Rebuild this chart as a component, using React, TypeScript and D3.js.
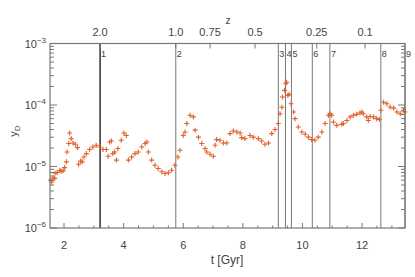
import React from 'react';
import * as d3 from 'd3';

const times = [
  1.55, 1.59, 1.63, 1.69, 1.70, 1.77, 1.86, 1.90, 1.97, 2.02, 2.08, 2.10, 2.16, 2.19, 2.24, 2.30, 2.38, 2.45,
  2.49, 2.56, 2.61, 2.67, 2.75, 2.86, 2.97, 3.08, 3.20, 3.31, 3.42, 3.48, 3.53, 3.59, 3.64, 3.70, 3.76, 3.81,
  3.92, 4.01, 4.09,
  4.16, 4.27, 4.38, 4.49, 4.61, 4.72, 4.78, 4.83, 4.94, 5.05, 5.16, 5.28, 5.39, 5.50, 5.61, 5.72, 5.82, 5.89,
  6.00, 6.06, 6.12, 6.23, 6.34, 6.40, 6.51, 6.62, 6.73,
  6.79, 6.90, 7.01, 7.07, 7.12, 7.23, 7.35, 7.46, 7.57, 7.68, 7.80, 7.91, 7.96, 8.07, 8.24, 8.35, 8.52, 8.63,
  8.74, 8.86, 8.97, 9.08, 9.19,
  9.25, 9.31, 9.33, 9.40, 9.44, 9.47, 9.51, 9.55, 9.62, 9.70, 9.75, 9.86, 9.98, 10.09, 10.20, 10.31, 10.42,
  10.53, 10.65, 10.76, 10.87, 10.93, 10.98, 11.04, 11.15, 11.32,
  11.37, 11.49, 11.60, 11.71, 11.82, 11.93, 11.99, 12.04, 12.16, 12.21, 12.27, 12.38, 12.49, 12.58, 12.63,
  12.72, 12.83, 12.94, 13.06, 13.17, 13.28, 13.39, 13.44,
];

const yValues = [
  6.0e-6, 5.6e-6, 6.5e-6, 6.4e-6, 7.8e-6, 8.0e-6, 8.7e-6, 8.4e-6, 8.5e-6, 9.6e-6, 1.19e-5, 1.72e-5, 2.36e-5, 3.5e-5, 2.84e-5, 2.41e-5, 2.3e-5, 2.03e-5,
  1.09e-5, 1.23e-5, 1.19e-5, 1.43e-5, 1.62e-5, 1.89e-5, 2.08e-5, 2.21e-5, 2.08e-5, 1.89e-5, 1.89e-5, 1.47e-5, 2.5e-5, 2.6e-5, 1.62e-5, 1.72e-5, 1.27e-5, 1.96e-5,
  2.67e-5, 3.5e-5, 3.2e-5,
  1.27e-5, 1.43e-5, 1.62e-5, 1.72e-5, 2.08e-5, 2.36e-5, 2.5e-5, 1.72e-5, 1.27e-5, 1.05e-5, 9.3e-6, 8.2e-6, 7.7e-6, 7.9e-6, 8.7e-6, 1.05e-5, 1.43e-5, 1.84e-5,
  3.2e-5, 3.64e-5, 5.0e-5, 6.8e-5, 6.4e-5, 3.9e-5, 3.0e-5, 2.36e-5, 1.96e-5,
  1.72e-5, 1.58e-5, 1.47e-5, 2.21e-5, 2.74e-5, 2.67e-5, 2.41e-5, 2.41e-5, 3.43e-5, 3.77e-5, 3.64e-5, 3.5e-5, 2.95e-5, 2.84e-5, 3.2e-5, 3.0e-5, 2.84e-5, 2.6e-5,
  2.3e-5, 2.41e-5, 3.43e-5, 4.0e-5, 5.0e-5,
  7.2e-5, 9.2e-5, 1.35e-4, 1.73e-4, 2.22e-4, 2.35e-4, 1.43e-4, 1.49e-4, 1.05e-4, 7.7e-5, 6.0e-5, 4.4e-5, 3.64e-5, 3.34e-5, 3.0e-5, 2.74e-5, 2.67e-5,
  3.0e-5, 3.64e-5, 5.0e-5, 6.8e-5, 7.2e-5, 6.8e-5, 5.3e-5, 4.67e-5, 4.85e-5,
  5.0e-5, 5.6e-5, 6.4e-5, 6.8e-5, 7.05e-5, 7.4e-5, 7.7e-5, 7.2e-5, 6.4e-5, 5.6e-5, 6.5e-5, 6.4e-5, 6.0e-5, 5.8e-5, 8.2e-5,
  1.11e-4, 1.05e-4, 9.3e-5, 8.9e-5, 7.7e-5, 7.2e-5, 8.2e-5, 7.7e-5,
];

const eventTimes = [3.21, 5.75, 9.19, 9.43, 9.63, 10.33, 10.92, 12.63, 13.44];
const eventLabels = ['1', '2', '3', '4', '5', '6', '7', '8', '9'];

const zTickLabels = ['2.0', '1.0', '0.75', '0.5', '0.25', '0.1'];
const zTickTimes = [3.21, 5.75, 6.9, 8.41, 10.48, 12.1];

const xTicks = [2, 4, 6, 8, 10, 12];
const yDecades = [-6, -5, -4, -3];

const W = 415;
const H = 277;
const L = 50, R = 405, T = 43.5, B = 228;
const FONT = "'Liberation Sans', Arial, sans-serif";
const TXT = '#444';
const AX = '#777';
const DOT = '#e0602a';

export default function App() {
  const x = d3.scaleLinear().domain([1.53, 13.44]).range([L, R]);
  const y = d3.scaleLog().domain([1e-6, 1e-3]).range([B, T]);

  const minorX = d3.range(1.5, 13.5, 0.5).filter((t) => t >= 1.53 && t <= 13.44 && !xTicks.includes(t));
  const minorY: number[] = [];
  for (let e = -6; e < -3; e++) for (let m = 2; m <= 9; m++) minorY.push(m * Math.pow(10, e));

  return (
    <div style={{ position: 'absolute', left: 0, top: 0 }}>
      <svg width={W} height={H} style={{ display: 'block', background: '#fff' }} fontFamily={FONT}>
        {/* event lines */}
        {eventTimes.map((t, i) => (
          <g key={'ev' + i}>
            <line x1={x(t)} x2={x(t)} y1={T} y2={B} stroke={i === 0 ? '#111' : '#777'} strokeWidth={i === 0 ? 1.3 : 1} />
            <text x={x(t) + 1} y={57} fontSize={9} fill={TXT}>{eventLabels[i]}</text>
          </g>
        ))}
        {/* data markers */}
        {times.map((t, i) => {
          const cx = x(t), cy = y(yValues[i]);
          return (
            <path key={'p' + i} d={`M${cx - 2.5},${cy}H${cx + 2.5}M${cx},${cy - 2.5}V${cy + 2.5}`} stroke={DOT} strokeWidth={1.1} fill="none" />
          );
        })}
        {/* frame */}
        <rect x={L} y={T} width={R - L} height={B - T} fill="none" stroke={AX} strokeWidth={1.2} />
        {/* bottom ticks */}
        {xTicks.map((t) => (
          <g key={'xt' + t}>
            <line x1={x(t)} x2={x(t)} y1={B} y2={B - 5} stroke={AX} />
            <text x={x(t)} y={249} fontSize={11} fill={TXT} textAnchor="middle">{t}</text>
          </g>
        ))}
        {minorX.map((t) => (
          <line key={'xm' + t} x1={x(t)} x2={x(t)} y1={B} y2={B - 2.5} stroke={AX} />
        ))}
        {/* top z ticks */}
        {zTickTimes.map((t, i) => (
          <g key={'zt' + i}>
            <line x1={x(t)} x2={x(t)} y1={T} y2={T + 5} stroke={AX} />
            <text x={x(t)} y={36} fontSize={11} fill={TXT} textAnchor="middle">{zTickLabels[i]}</text>
          </g>
        ))}
        <text x={228} y={24} fontSize={10} fill={TXT} textAnchor="middle">z</text>
        {/* y ticks */}
        {yDecades.map((e) => {
          const yy = y(Math.pow(10, e));
          return (
            <g key={'yd' + e}>
              <line x1={L} x2={L + 7} y1={yy} y2={yy} stroke={AX} />
              <line x1={R} x2={R - 7} y1={yy} y2={yy} stroke={AX} />
              <text x={46} y={yy + 4} fontSize={11} fill={TXT} textAnchor="end">
                10<tspan dy={-5} fontSize={8}>{'\u2212' + -e}</tspan>
              </text>
            </g>
          );
        })}
        {minorY.map((v, i) => (
          <g key={'ym' + i}>
            <line x1={L} x2={L + 4} y1={y(v)} y2={y(v)} stroke={AX} />
            <line x1={R} x2={R - 4} y1={y(v)} y2={y(v)} stroke={AX} />
          </g>
        ))}
        {/* axis labels */}
        <text x={227} y={264} fontSize={12} fill={TXT} textAnchor="middle">t [Gyr]</text>
        <text transform="translate(17,131) rotate(-90)" fontSize={11} fill={TXT} textAnchor="middle">
          y<tspan dy={3} fontSize={8}>D</tspan>
        </text>
      </svg>
    </div>
  );
}
